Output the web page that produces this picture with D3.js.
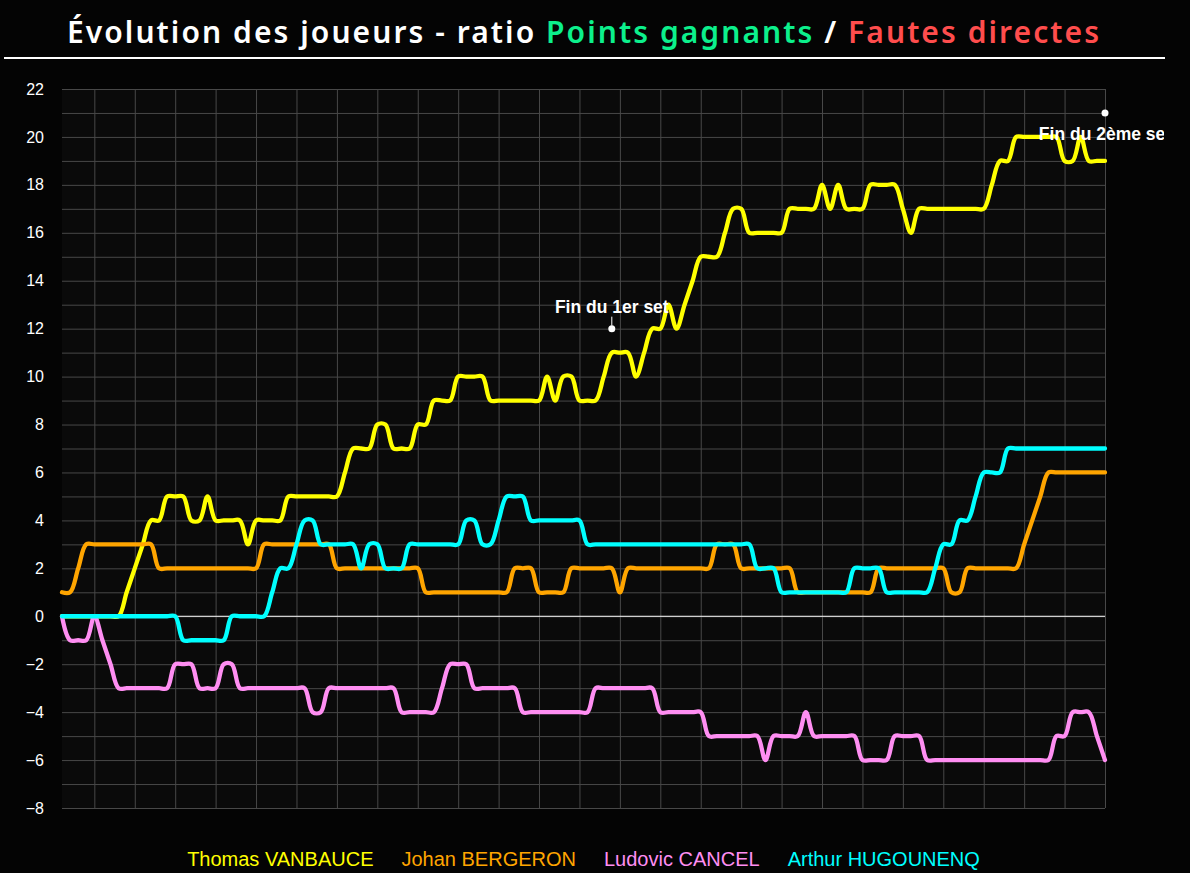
<!DOCTYPE html>
<html><head><meta charset="utf-8">
<script src="https://cdn.jsdelivr.net/npm/d3@7/dist/d3.min.js"></script>
<style>html,body{margin:0;padding:0;background:#040404;overflow:hidden}</style>
</head><body><svg id="c" width="1190" height="873"></svg>
<script>
// ---- data ----
const pointNumbers = d3.range(1, 131); // point index 1..130
const thomas = [
 0,0,0,0,0,0,0,0,1,2,
 3,4,4,5,5,5,4,4,5,4,
 4,4,4,3,4,4,4,4,5,5,
 5,5,5,5,5,6,7,7,7,8,
 8,7,7,7,8,8,9,9,9,10,
 10,10,10,9,9,9,9,9,9,9,
 10,9,10,10,9,9,9,10,11,11,
 11,10,11,12,12,13,12,13,14,15,
 15,15,16,17,17,16,16,16,16,16,
 17,17,17,17,18,17,18,17,17,17,
 18,18,18,18,17,16,17,17,17,17,
 17,17,17,17,17,18,19,19,20,20,
 20,20,20,20,19,19,20,19,19,19];
const johan = [
 1,1,2,3,3,3,3,3,3,3,
 3,3,2,2,2,2,2,2,2,2,
 2,2,2,2,2,3,3,3,3,3,
 3,3,3,3,2,2,2,2,2,2,
 2,2,2,2,2,1,1,1,1,1,
 1,1,1,1,1,1,2,2,2,1,
 1,1,1,2,2,2,2,2,2,1,
 2,2,2,2,2,2,2,2,2,2,
 2,3,3,3,2,2,2,2,2,2,
 2,1,1,1,1,1,1,1,1,1,
 1,2,2,2,2,2,2,2,2,2,
 1,1,2,2,2,2,2,2,2,3,
 4,5,6,6,6,6,6,6,6,6];
const ludovic = [
 0,-1,-1,-1,0,-1,-2,-3,-3,-3,
 -3,-3,-3,-3,-2,-2,-2,-3,-3,-3,
 -2,-2,-3,-3,-3,-3,-3,-3,-3,-3,
 -3,-4,-4,-3,-3,-3,-3,-3,-3,-3,
 -3,-3,-4,-4,-4,-4,-4,-3,-2,-2,
 -2,-3,-3,-3,-3,-3,-3,-4,-4,-4,
 -4,-4,-4,-4,-4,-4,-3,-3,-3,-3,
 -3,-3,-3,-3,-4,-4,-4,-4,-4,-4,
 -5,-5,-5,-5,-5,-5,-5,-6,-5,-5,
 -5,-5,-4,-5,-5,-5,-5,-5,-5,-6,
 -6,-6,-6,-5,-5,-5,-5,-6,-6,-6,
 -6,-6,-6,-6,-6,-6,-6,-6,-6,-6,
 -6,-6,-6,-5,-5,-4,-4,-4,-5,-6];
const arthur = [
 0,0,0,0,0,0,0,0,0,0,
 0,0,0,0,0,-1,-1,-1,-1,-1,
 -1,0,0,0,0,0,1,2,2,3,
 4,4,3,3,3,3,3,2,3,3,
 2,2,2,3,3,3,3,3,3,3,
 4,4,3,3,4,5,5,5,4,4,
 4,4,4,4,4,3,3,3,3,3,
 3,3,3,3,3,3,3,3,3,3,
 3,3,3,3,3,3,2,2,2,1,
 1,1,1,1,1,1,1,1,2,2,
 2,2,1,1,1,1,1,1,2,3,
 3,4,4,5,6,6,6,7,7,7,
 7,7,7,7,7,7,7,7,7,7];
const seriesNames = ["Thomas VANBAUCE", "Johan BERGERON", "Ludovic CANCEL", "Arthur HUGOUNENQ"];
const seriesColors = ["#ffff00", "#ffa500", "#ff8ef2", "#00ffff"];
const yTickValues = [-8,-6,-4,-2,0,2,4,6,8,10,12,14,16,18,20,22];
const annotationX = [69, 130];
const annotationY = [12, 21];
const annotationText = ["Fin du 1er set", "Fin du 2ème set"];
const titleParts = ["Évolution des joueurs - ratio ", "Points gagnants", " / ", "Fautes directes"];
const titleColors = ["#ffffff", "#0cf08c", "#ffffff", "#ff4d4d"];

// ---- chart ----
const svg = d3.select("#c");
const L = 62, R = 1105, T = 89, B = 808;
const x = d3.scaleLinear().domain([1, 130]).range([L, R]);
const y = d3.scaleLinear().domain([-8, 22]).range([B, T]);

svg.append("rect").attr("x", 0).attr("y", 0).attr("width", 1190).attr("height", 873).attr("fill", "#040404");
svg.append("rect").attr("x", L).attr("y", T).attr("width", R - L).attr("height", B - T).attr("fill", "#0a0a0a");

// title
const title = svg.append("text").attr("x", 67).attr("y", 43)
  .attr("font-family", "Noto Sans, DejaVu Sans").attr("font-weight", 600).attr("font-size", 30)
  .attr("textLength", 1032).attr("lengthAdjust", "spacing");
titleParts.forEach((t, i) => title.append("tspan").attr("fill", titleColors[i]).text(t));
svg.append("line").attr("x1", 4).attr("x2", 1165).attr("y1", 58).attr("y2", 58)
  .attr("stroke", "#fff").attr("stroke-width", 2);

// grid
const minorY = d3.range(-8, 23, 1);
svg.append("g").attr("class", "ygrid")
  .attr("transform", `translate(${L},0)`)
  .call(d3.axisLeft(y).tickValues(minorY).tickSize(-(R - L)).tickFormat(""))
  .call(g => g.select(".domain").remove())
  .call(g => g.selectAll("line").attr("stroke", "#484848").attr("stroke-width", 1));
const xTicks = pointNumbers.filter(v => v % 5 === 0);
svg.append("g").attr("class", "xgrid")
  .attr("transform", `translate(0,${B})`)
  .call(d3.axisBottom(x).tickValues(xTicks).tickSize(-(B - T)).tickFormat(""))
  .call(g => g.select(".domain").remove())
  .call(g => g.selectAll("line").attr("stroke", "#484848").attr("stroke-width", 1));

// y labels
svg.append("g").attr("transform", `translate(${L},0)`)
  .call(d3.axisLeft(y).tickValues(yTickValues).tickSize(0).tickPadding(18))
  .call(g => g.select(".domain").remove())
  .call(g => g.selectAll("text").attr("fill", "#fff").attr("font-family", "Liberation Sans, Arial")
     .attr("font-size", 16));

// zero line
svg.append("line").attr("x1", L).attr("x2", R).attr("y1", y(0)).attr("y2", y(0))
  .attr("stroke", "#fff").attr("stroke-width", 1);

// lines
const series = [thomas, johan, ludovic, arthur];
const line = d3.line().x((d, i) => x(pointNumbers[i])).y(d => y(d)).curve(d3.curveCatmullRom.alpha(0.5));
series.forEach((s, k) => {
  svg.append("path").datum(s).attr("d", line).attr("fill", "none")
    .attr("stroke", seriesColors[k]).attr("stroke-width", 4.3)
    .attr("stroke-linejoin", "round").attr("stroke-linecap", "round");
});

// annotations
svg.append("clipPath").attr("id", "clipA").append("rect").attr("x", 0).attr("y", 0).attr("width", 1164).attr("height", 873);
const ag = svg.append("g").attr("clip-path", "url(#clipA)");
annotationX.forEach((ax, i) => {
  const px = x(ax), py = y(annotationY[i]);
  ag.append("circle").attr("cx", px).attr("cy", py).attr("r", 3.5).attr("fill", "#fff");
  if (i === 0) {
    ag.append("line").attr("x1", px).attr("x2", px).attr("y1", py - 12).attr("y2", py - 3)
      .attr("stroke", "#fff").attr("stroke-width", 1);
    ag.append("text").attr("x", px).attr("y", py - 16).attr("text-anchor", "middle")
      .attr("font-family", "Liberation Sans, Arial").attr("font-weight", "bold").attr("font-size", 17.5)
      .attr("fill", "#fff").text(annotationText[i]);
  } else {
    ag.append("text").attr("x", px).attr("y", py + 27).attr("text-anchor", "middle")
      .attr("font-family", "Liberation Sans, Arial").attr("font-weight", "bold").attr("font-size", 17.5)
      .attr("fill", "#fff").text(annotationText[i]);
  }
});

// legend
const lg = svg.append("g");
const texts = seriesNames.map((n, k) => lg.append("text").attr("y", 866)
  .attr("font-family", "Liberation Sans, Arial").attr("font-size", 20)
  .attr("fill", seriesColors[k]).text(n));
const widths = texts.map(t => t.node().getComputedTextLength());
const gap = 28;
const total = d3.sum(widths) + gap * (widths.length - 1);
let cx = (L + R) / 2 - total / 2;
texts.forEach((t, k) => { t.attr("x", cx); cx += widths[k] + gap; });
</script>
</body></html>
